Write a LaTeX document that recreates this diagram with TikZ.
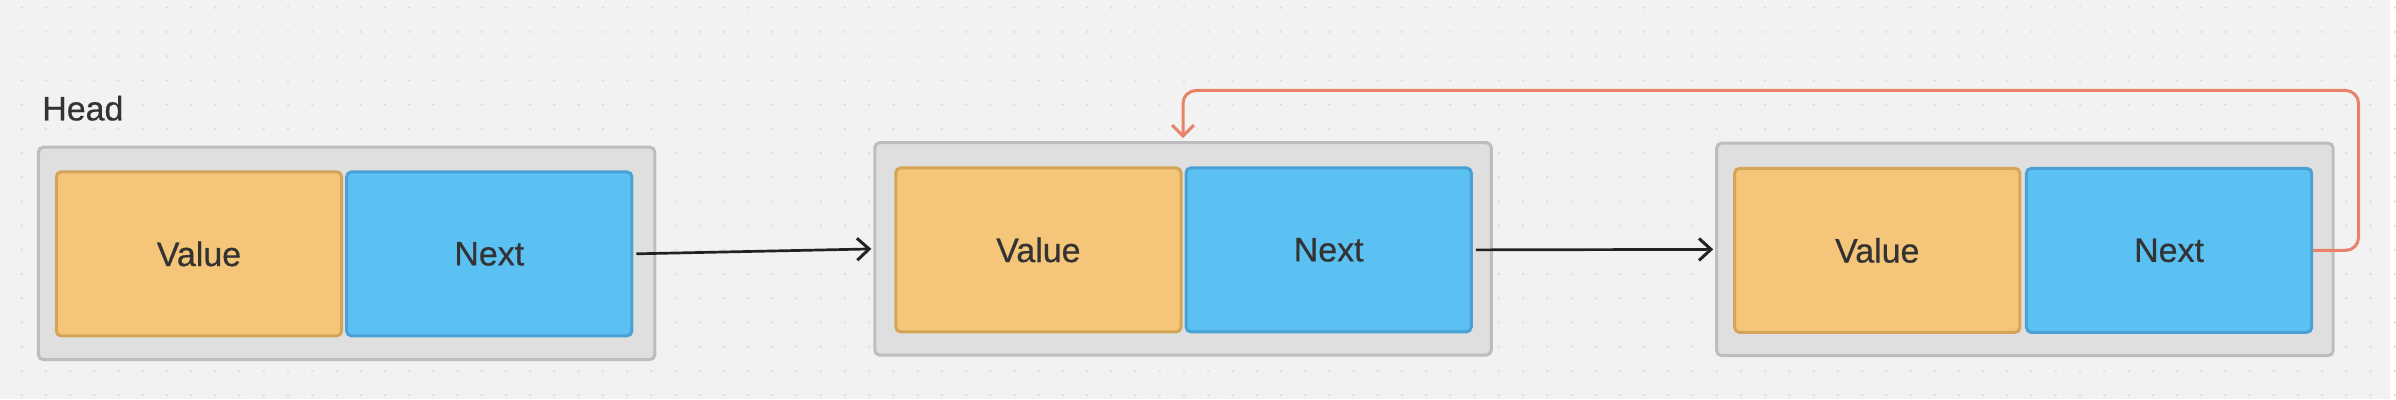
\documentclass[tikz,border=0pt]{standalone}
\usepackage{fontspec}
\setmainfont{Liberation Sans}
\newfontface\labelface{Liberation Sans}[FakeBold=0.6]
\usetikzlibrary{arrows.meta}

\definecolor{canvas}{HTML}{F2F2F2}
\definecolor{griddot}{HTML}{DADADA}
\definecolor{outerfill}{HTML}{DFDFDF}
\definecolor{outerline}{HTML}{BDBDBD}
\definecolor{valuefill}{HTML}{F5C67A}
\definecolor{valueline}{HTML}{D5A557}
\definecolor{nextfill}{HTML}{5BC1F2}
\definecolor{nextline}{HTML}{4AA1D6}
\definecolor{linkblack}{HTML}{222222}
\definecolor{backorange}{HTML}{E8836A}
\definecolor{labeltext}{HTML}{333333}

\newcommand{\labelfont}{\labelface\fontsize{9.68pt}{11pt}\selectfont}

\tikzset{
  nodebox/.style={draw=outerline, fill=outerfill, line width=0.03cm, rounded corners=0.05cm,
    minimum width=6.18cm, minimum height=2.13cm},
  valuebox/.style={draw=valueline, fill=valuefill, line width=0.03cm, rounded corners=0.05cm,
    minimum width=2.86cm, minimum height=1.645cm, text=labeltext, font=\labelfont},
  nextbox/.style={draw=nextline, fill=nextfill, line width=0.03cm, rounded corners=0.05cm,
    minimum width=2.86cm, minimum height=1.645cm, text=labeltext, font=\labelfont},
  link/.style={draw=linkblack, line width=0.027cm, shorten <=0.03cm, shorten >=0.02cm,
    -{Straight Barb[length=0.12cm, width=0.22cm, line width=0.03cm]}},
  backlink/.style={draw=backorange, line width=0.03cm, rounded corners=0.13cm, shorten >=0.03cm,
    -{Straight Barb[length=0.11cm, width=0.22cm, line width=0.03cm]}}
}

\begin{document}
\begin{tikzpicture}

    % background and dot grid
    \fill[canvas] (0,0) rectangle (23.96,4);
    \foreach \i in {0,...,98}
      \foreach \j in {0,...,16}
        \fill[griddot] (0.217+0.24277*\i, 3.923-0.24277*\j) circle (0.012);

    \node[anchor=base west, inner sep=0, text=labeltext, font=\labelfont] (head) at (0.417,2.793) {Head};

    % first node
    \node[nodebox] (box1) at (3.475,1.46) {};
    \node[valuebox] (value1) at (1.995,1.455) {Value};
    \node[nextbox] (next1) at (4.905,1.455) {Next};

    % second node
    \node[nodebox] (box2) at (11.86,1.505) {};
    \node[valuebox] (value2) at (10.41,1.495) {Value};
    \node[nextbox] (next2) at (13.32,1.495) {Next};

    % third node
    \node[nodebox] (box3) at (20.30,1.50) {};
    \node[valuebox] (value3) at (18.82,1.49) {Value};
    \node[nextbox] (next3) at (21.745,1.49) {Next};

    \draw[link] (next1.east) -- (box2.west);
    \draw[link] (next2.east) -- (box3.west);
    \draw[backlink] (next3.east) -| ++(0.455,1.603) -| (box2.north);
\end{tikzpicture}
\end{document}
